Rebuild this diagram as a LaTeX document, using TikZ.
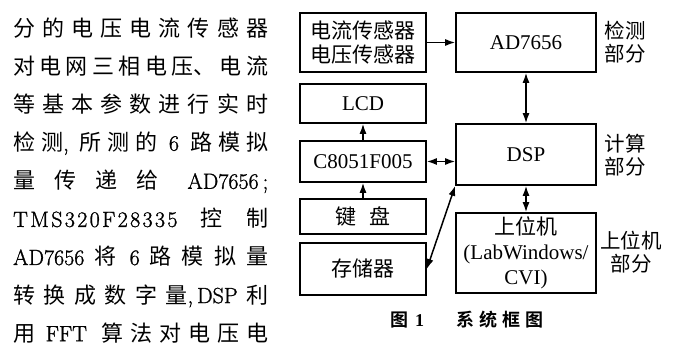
\documentclass[tikz,border=0pt]{standalone}
\usepackage{fontspec}
\usetikzlibrary{arrows.meta}
\newfontfamily\cjk{Noto Sans CJK SC}
\newfontfamily\cjkbf{Noto Sans CJK SC Bold}
\newfontfamily\tms{Liberation Serif}
\newfontfamily\lmr{Latin Modern Roman}[FakeBold=1.2]
\newcommand\gp[1][1]{\hskip 0pt plus #1fil\relax}
\tikzset{
  blk/.style={draw,line width=1.6pt,inner sep=0pt,align=center,font=\fontsize{21}{24}\selectfont\tms},
  lbl/.style={inner sep=0pt,align=center,font=\fontsize{20.5}{23}\selectfont\cjk},
  bodyline/.style={anchor=base west,inner sep=0pt},
  arr/.style={line width=1.5pt,-{Latex[length=10pt,width=7pt]}},
  darr/.style={line width=1.5pt,{Latex[length=10pt,width=7pt]}-{Latex[length=10pt,width=7pt]}}
}
\newcommand\bl[3]{\node[bodyline] (#1) at (13,#2) {\makebox[255pt][s]{\fontsize{22}{22}\selectfont\cjk #3}};}
\begin{document}
\begin{tikzpicture}[x=1pt,y=-1pt]
\useasboundingbox (0,0) rectangle (675,344);
% body text
\bl{l1}{36.4}{分\gp 的\gp 电\gp 压\gp 电\gp 流\gp 传\gp 感\gp 器}
\bl{l2}{74.5}{对\gp 电\gp 网\gp 三\gp 相\gp 电\gp 压、\gp 电\gp 流}
\bl{l3}{112.6}{等\gp 基\gp 本\gp 参\gp 数\gp 进\gp 行\gp 实\gp 时}
\bl{l4}{150.7}{检\gp[.6]测{\lmr,}\hspace{5pt}\gp[.6]所\gp[.6]测\gp[.6]的\gp[1.1]{\lmr 6}\gp[1.1]路\gp[.6]模\gp[.6]拟}
\bl{l5}{188.8}{量\gp 传\gp 递\gp 给\gp[1.5]{\lmr AD7656\hspace{4pt};}}
\bl{l6}{226.9}{{\lmr T\gp[.1]M\gp[.1]S\gp[.1]3\gp[.1]2\gp[.1]0\gp[.1]F\gp[.1]2\gp[.1]8\gp[.1]3\gp[.1]3\gp[.1]5}\gp 控\gp 制}
\bl{l7}{265}{{\lmr AD7656}\gp 将\gp[1.3]{\lmr 6}\gp 路\gp 模\gp 拟\gp 量}
\bl{l8}{303.1}{转\gp 换\gp 成\gp 数\gp 字\gp 量{\lmr,}\hspace{4pt}{\lmr DSP}\gp 利}
\bl{l9}{341.2}{用\gp[1.5]{\lmr FFT}\gp[2]算\gp 法\gp 对\gp 电\gp 压\gp 电}
% diagram boxes
\node[blk,minimum width=126,minimum height=59] (sens) at (363,42.5) {{\cjk 电流传感器}\\{\cjk 电压传感器}};
\node[blk,minimum width=126,minimum height=39] (lcd) at (363,103.5) {LCD};
\node[blk,minimum width=126,minimum height=41] (c8051) at (363,161.5) {C8051F005};
\node[blk,minimum width=126,minimum height=35] (kbd) at (363,216.5) {\cjk 键\hspace{14pt}盘};
\node[blk,minimum width=126,minimum height=52] (mem) at (363,269) {\cjk 存储器};
\node[blk,minimum width=140,minimum height=59] (ad) at (526,42.5) {AD7656};
\node[blk,minimum width=140,minimum height=61] (dsp) at (526,154.5) {DSP};
\node[blk,minimum width=140,minimum height=80,font=\fontsize{21}{25}\selectfont\tms] (pc) at (526,253) {{\cjk 上位机}\\(LabWindows/\\CVI)};
% side labels
\node[lbl] (lab1) at (625,42) {检测\\部分};
\node[lbl] (lab2) at (625,155) {计算\\部分};
\node[lbl] (lab3) at (631,252) {上位机\\部分};
% caption
\node[anchor=west,inner sep=0pt] (cap) at (390,320) {\fontsize{18}{18}\selectfont\cjkbf 图\hspace{7pt}{\tms\bfseries 1}\hspace{32pt}系\hspace{5pt}统\hspace{5pt}框\hspace{5pt}图};
% connectors
\draw[arr] (sens.east) -- (ad.west);
\draw[darr] (ad.south) -- (dsp.north);
\draw[arr] (c8051.north) -- (lcd.south);
\draw[arr] (kbd.north) -- (c8051.south);
\draw[darr] (c8051.east) -- (c8051.east -| dsp.west);
\draw[darr] (dsp.south) -- (pc.north);
\draw[darr] (dsp.south west) -- (mem.east);
\end{tikzpicture}
\end{document}
